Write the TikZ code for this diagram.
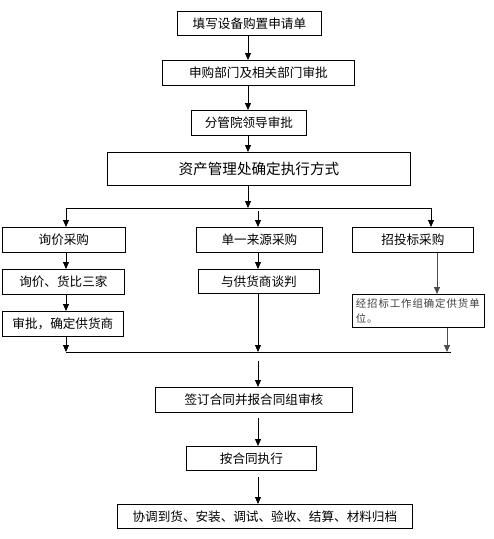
\documentclass[tikz,border=0pt]{standalone}
\usepackage{fontspec}
\setmainfont{Noto Sans CJK SC}
\usetikzlibrary{arrows.meta}
\begin{document}
\begin{tikzpicture}[x=1pt,y=-1pt,
  box/.style={draw=black,line width=0.8pt,inner sep=0pt,anchor=north west,align=center,font=\fontsize{12.6pt}{14pt}\selectfont},
  arr/.style={line width=0.8pt,-{Triangle[width=6pt,length=7pt]}},
  garr/.style={line width=0.9pt,-{Triangle[width=6pt,length=7pt]},color=black!70},
  ln/.style={line width=0.8pt}]
\useasboundingbox (0,0) rectangle (494,539);
\fill[white] (0,0) rectangle (494,539);
% helper coordinates for connector x positions
\coordinate (xc) at (248,0);
\coordinate (xm) at (258,0);
\coordinate (xl) at (66,0);
\coordinate (xr) at (431,0);
\coordinate (xg) at (437,0);
\coordinate (xh) at (447,0);
% boxes
\node[box,minimum width=144,minimum height=24] (b1) at (177,11) {填写设备购置申请单};
\node[box,minimum width=192,minimum height=25] (b2) at (162,60) {申购部门及相关部门审批};
\node[box,minimum width=115,minimum height=25] (b3) at (191,110) {分管院领导审批};
\node[box,minimum width=303,minimum height=33,font=\fontsize{14.6pt}{16pt}\selectfont] (b4) at (107,152) {资产管理处确定执行方式};
\node[box,minimum width=123,minimum height=25] (l1) at (2,227) {询价采购};
\node[box,minimum width=126,minimum height=25] (m1) at (196,227) {单一来源采购};
\node[box,minimum width=121,minimum height=25] (r1) at (352,227) {招投标采购};
\node[box,minimum width=122,minimum height=25] (l2) at (2,269) {询价、货比三家};
\node[box,minimum width=121,minimum height=24] (m2) at (198,269) {与供货商谈判};
\node[box,minimum width=121,minimum height=25] (l3) at (2,311) {审批，确定供货商};
\node[box,minimum width=132,minimum height=33,text width=125pt,align=left,text=black!75,font=\fontsize{10.4pt}{15pt}\selectfont\addfontfeature{LetterSpace=9}] (r2) at (352,294) {经招标工作组确定供货单\\位。};
\node[box,minimum width=197,minimum height=25] (s1) at (155,387) {签订合同并报合同组审核};
\node[box,minimum width=130,minimum height=24] (s2) at (186,446) {按合同执行};
\node[box,minimum width=295,minimum height=24] (s3) at (117,504) {协调到货、安装、调试、验收、结算、材料归档};
% junction coordinates
\coordinate (j1) at (248,208);
\coordinate (jl) at (66,208);
\coordinate (jr) at (431,208);
\coordinate (jm) at (258,211);
\coordinate (k0) at (66,352);
\coordinate (k1) at (451,352);
\coordinate (km) at (258,352);
\coordinate (kh) at (447,352);
\coordinate (t1) at (258,361);
\coordinate (t2) at (258,418);
\coordinate (t3) at (258,477);
% connectors
\draw[arr] (b1.south -| xc) -- (b2.north -| xc);
\draw[arr] (b2.south -| xc) -- (b3.north -| xc);
\draw[arr] (b3.south -| xc) -- (b4.north -| xc);
\draw[arr] (b4.south -| xc) -- (j1);
\draw[ln] (jl) -- (jr);
\draw[arr] (jl) -- (l1.north -| xl);
\draw[arr] (jr) -- (r1.north -| xr);
\draw[arr] (jm) -- (m1.north -| xm);
\draw[arr] (l1.south -| xl) -- (l2.north -| xl);
\draw[arr] (l2.south -| xl) -- (l3.north -| xl);
\draw[arr] (l3.south -| xl) -- (k0);
\draw[arr] (m1.south -| xm) -- (m2.north -| xm);
\draw[arr] (m2.south -| xm) -- (km);
\draw[garr] (r1.south -| xg) -- (r2.north -| xg);
\draw[garr] (r2.south -| xh) -- (kh);
\draw[ln] (k0) -- (k1);
\draw[arr] (t1) -- (s1.north -| xm);
\draw[arr] (t2) -- (s2.north -| xm);
\draw[arr] (t3) -- (s3.north -| xm);
\end{tikzpicture}
\end{document}
